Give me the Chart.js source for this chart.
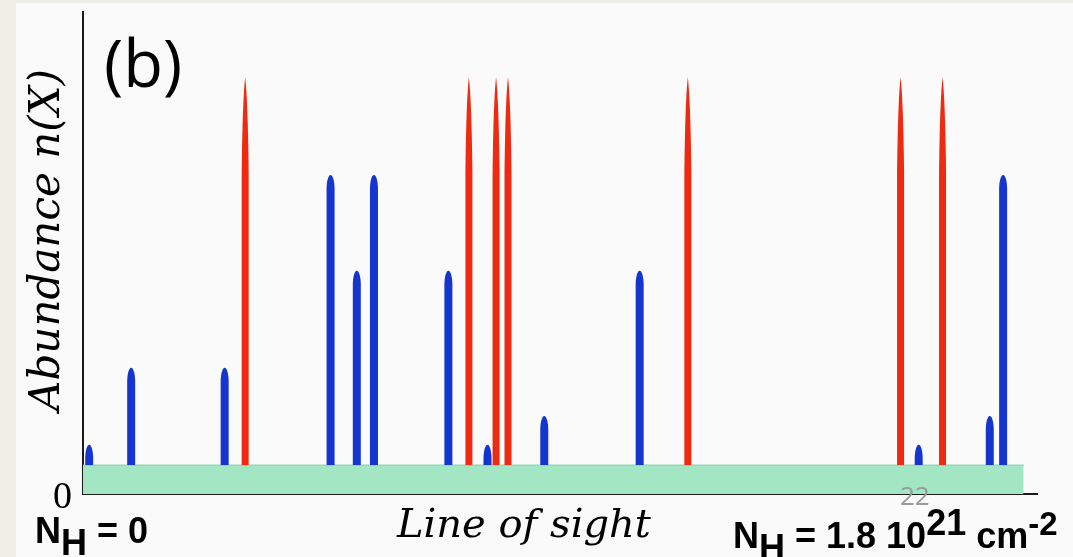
<!DOCTYPE html>
<html>
<head>
<meta charset="utf-8">
<script src="https://cdn.jsdelivr.net/npm/chart.js@4.4.1/dist/chart.umd.min.js"></script>
<style>
  body { margin: 0; background: #eeeee6; }
  #wrap { position: absolute; left: 0; top: 0; width: 1073px; height: 557px; overflow: hidden; }
  #panel { position: absolute; left: 16px; top: 3px; width: 1057px; height: 554px; background: #fafafa; }
  #chart { position: absolute; left: 0; top: 0; }
  .lbl { position: absolute; white-space: nowrap; color: #000; line-height: 1; }
  .sans { font-family: "Open Sans", "DejaVu Sans", sans-serif; }
  .bold { font-family: "Liberation Sans", Arial, sans-serif; font-weight: bold; }
  .serif { font-family: "DejaVu Serif", "Liberation Serif", serif; font-style: italic; }
</style>
</head>
<body>
<div id="wrap">
  <div id="panel"></div>
  <canvas id="chart" width="1073" height="557"></canvas>
  <div class="lbl sans" style="left:104px;top:30px;font-size:65px;font-weight:500;">(b)</div>
  <div class="lbl serif" style="left:45px;top:240px;font-size:42px;transform:translate(-50%,-50%) rotate(-90deg);">Abundance <i>n</i>(X)</div>
  <div class="lbl" style="left:53px;top:476px;font-size:38px;font-family:'Liberation Serif',serif;">0</div>
  <div class="lbl serif" style="left:397px;top:503px;font-size:40px;">Line of sight</div>
  <div class="lbl bold" style="left:35px;top:513px;font-size:36px;">N<sub style="font-size:36px;vertical-align:-12px;">H</sub> = 0</div>
  <div class="lbl" style="left:900px;top:482px;font-size:26px;color:#9a9a9a;font-family:'Open Sans',sans-serif;">22</div>
  <div class="lbl bold" style="left:733px;top:505px;font-size:36px;">N<sub style="font-size:36px;vertical-align:-12px;">H</sub> = 1.8 10<sup style="font-size:36px;vertical-align:13px;">21</sup> cm<sup style="font-size:33px;vertical-align:13px;">-2</sup></div>
</div>
<script>
// Line-of-sight abundance spikes (position along sight line, 0..100)
const bandTop = 6;          // height of the green band
const bandStart = 0;
const bandEnd = 98.6;

const blueX = [0.65, 5.05, 14.85, 25.95, 28.7, 30.5, 38.3, 42.4, 48.35, 58.35, 87.6, 95.05, 96.45];
const blueY = [10.2, 26.2, 26.2, 66.2, 46.3, 66.2, 46.3, 10.2, 16.2, 46.3, 10.2, 16.2, 66.2];

const redX = [17.0, 40.45, 43.3, 44.55, 63.4, 85.7, 90.1];
const redY = [86.5, 86.5, 86.5, 86.5, 86.5, 86.5, 86.5];

const BLUE = '#1535cf';
const RED = '#ee2a10';

function toBars(xs, ys) {
    return xs.map((x, i) => ({ x: x, y: [bandTop, ys[i]] }));
}

// draws the spike shapes on top of the (invisible) bar elements
const spikePlugin = {
    id: 'spikes',
    afterDatasetsDraw(chart) {
        const ctx = chart.ctx;
        chart.data.datasets.forEach((ds, di) => {
            if (!ds.spike) return;
            const meta = chart.getDatasetMeta(di);
            meta.data.forEach(bar => {
                const w = ds.spikeWidth;
                const l = bar.x - w / 2, r = bar.x + w / 2;
                const top = bar.y, base = bar.base;
                const h = Math.min(ds.tipLength, base - top);
                ctx.save();
                ctx.fillStyle = ds.spikeColor;
                ctx.beginPath();
                ctx.moveTo(l, base);
                ctx.lineTo(l, top + h);
                if (ds.spike === 'round') {
                    ctx.bezierCurveTo(l, top + h * 0.45, bar.x - w * 0.28, top, bar.x, top);
                    ctx.bezierCurveTo(bar.x + w * 0.28, top, r, top + h * 0.45, r, top + h);
                } else {
                    ctx.quadraticCurveTo(l + w * 0.12, top + h * 0.25, bar.x, top);
                    ctx.quadraticCurveTo(r - w * 0.12, top + h * 0.25, r, top + h);
                }
                ctx.lineTo(r, base);
                ctx.closePath();
                ctx.fill();
                ctx.restore();
            });
        });
    }
};

new Chart(document.getElementById('chart'), {
    type: 'bar',
    data: {
        datasets: [
            {
                type: 'line',
                label: 'band',
                data: [{ x: bandStart, y: bandTop }, { x: bandEnd, y: bandTop }],
                borderColor: '#86d2aa',
                borderWidth: 1,
                backgroundColor: '#a2e6c4',
                fill: 'origin',
                pointRadius: 0,
                order: 2
            },
            {
                label: 'blue',
                data: toBars(blueX, blueY),
                backgroundColor: 'rgba(0,0,0,0)',
                barThickness: 8,
                grouped: false,
                spike: 'round',
                spikeColor: BLUE,
                spikeWidth: 8,
                tipLength: 14,
                order: 1
            },
            {
                label: 'red',
                data: toBars(redX, redY),
                backgroundColor: 'rgba(0,0,0,0)',
                barThickness: 7,
                grouped: false,
                spike: 'pointed',
                spikeColor: RED,
                spikeWidth: 7,
                tipLength: 95,
                order: 1
            }
        ]
    },
    options: {
        responsive: false,
        animation: false,
        layout: { padding: { left: 83, right: 36, top: 12, bottom: 63 } },
        plugins: { legend: { display: false }, tooltip: { enabled: false } },
        scales: {
            x: {
                type: 'linear',
                offset: false,
                min: 0,
                max: 100,
                ticks: { display: false },
                grid: { display: false, drawTicks: false, offset: false },
                border: { display: true, color: '#1a1a1a', width: 2 },
                afterFit(s) { s.height = 0; }
            },
            y: {
                min: 0,
                max: 100,
                ticks: { display: false },
                grid: { display: false, drawTicks: false },
                border: { display: true, color: '#1a1a1a', width: 2 },
                afterFit(s) { s.width = 0; }
            }
        }
    },
    plugins: [spikePlugin]
});
</script>
</body>
</html>
